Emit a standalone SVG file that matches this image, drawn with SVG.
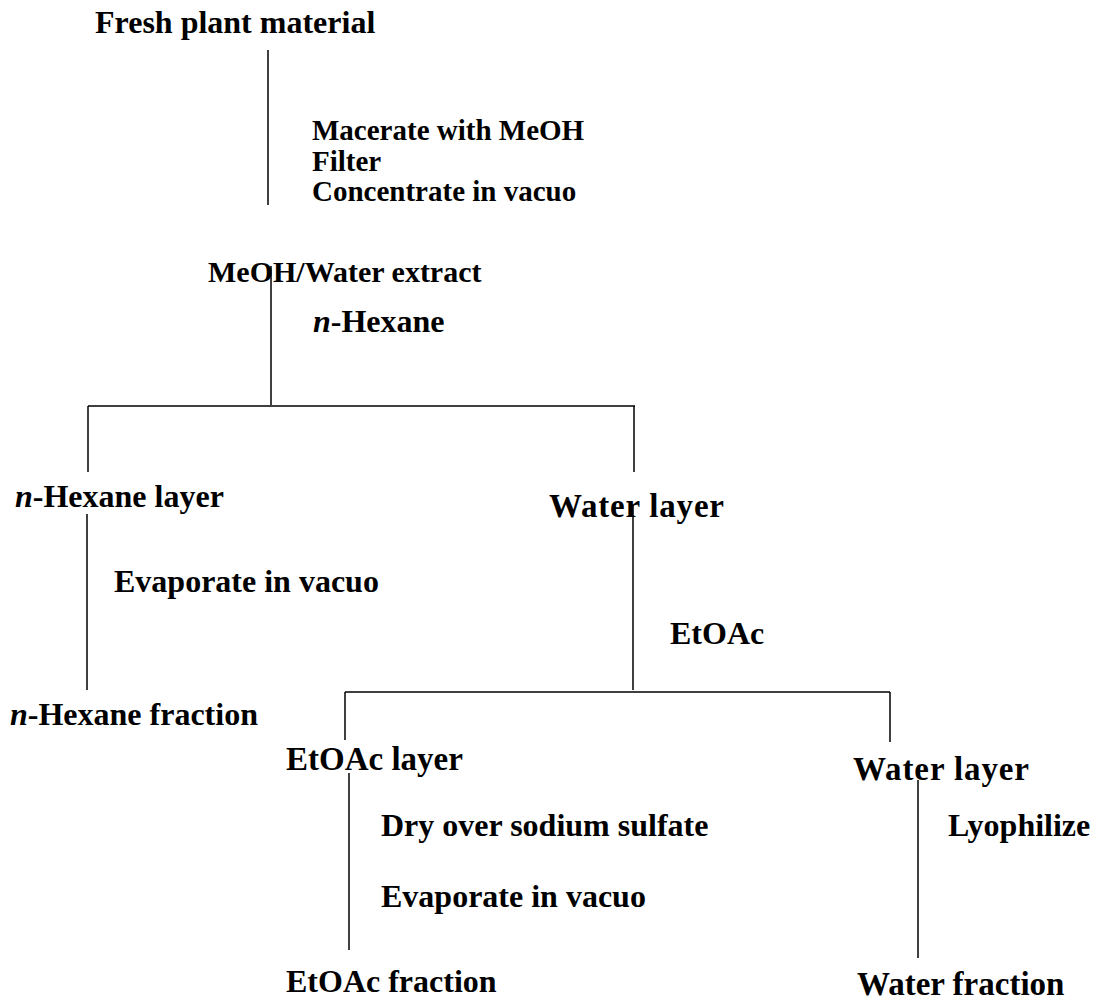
<svg xmlns="http://www.w3.org/2000/svg" width="1103" height="1005" viewBox="0 0 1103 1005">
<style>
text{font-family:"Liberation Serif","Times New Roman",serif;font-weight:bold;font-size:32px;fill:#000}
.s29{font-size:29px}
.s30{font-size:30px}
.s33{font-size:33px}
.i{font-style:italic}
line{stroke:#000;stroke-width:1.5}
</style>
<rect width="1103" height="1005" fill="#fff"/>
<g id="connectors">
<line x1="268" y1="50" x2="268" y2="205"/>
<line x1="271" y1="266" x2="271" y2="405"/>
<line x1="88" y1="406" x2="635" y2="406"/>
<line x1="88" y1="406" x2="88" y2="472"/>
<line x1="634" y1="406" x2="634" y2="472"/>
<line x1="87" y1="514" x2="87" y2="690"/>
<line x1="633" y1="505" x2="633" y2="690"/>
<line x1="345" y1="692" x2="890" y2="692"/>
<line x1="345" y1="692" x2="345" y2="740"/>
<line x1="890" y1="692" x2="890" y2="742"/>
<line x1="349" y1="773" x2="349" y2="950"/>
<line x1="918" y1="780" x2="918" y2="958"/>
</g>
<g id="fresh"><text x="95" y="33">Fresh plant material</text></g>
<g id="step1" class="s29"><text class="s29" x="312" y="140">Macerate with MeOH</text><text class="s29" x="312" y="171">Filter</text><text class="s29" x="312" y="201">Concentrate in vacuo</text></g>
<g id="extract"><text class="s30" x="208" y="282">MeOH/Water extract</text></g>
<g id="step2"><text x="313" y="332"><tspan class="i">n</tspan>-Hexane</text></g>
<g id="hexlayer"><text x="15" y="507"><tspan class="i">n</tspan>-Hexane layer</text></g>
<g id="waterlayer1"><text class="s33" x="549" y="517" textLength="175" lengthAdjust="spacing">Water layer</text></g>
<g id="step3"><text x="114" y="592">Evaporate in vacuo</text></g>
<g id="step4"><text x="670" y="644">EtOAc</text></g>
<g id="hexfraction"><text x="10" y="725"><tspan class="i">n</tspan>-Hexane fraction</text></g>
<g id="etoaclayer"><text class="s33" x="286" y="770">EtOAc layer</text></g>
<g id="waterlayer2"><text class="s33" x="853" y="780" textLength="176" lengthAdjust="spacing">Water layer</text></g>
<g id="step5"><text x="381" y="836">Dry over sodium sulfate</text><text x="381" y="907">Evaporate in vacuo</text></g>
<g id="step6"><text x="948" y="836">Lyophilize</text></g>
<g id="etoacfraction"><text x="286" y="992">EtOAc fraction</text></g>
<g id="waterfraction"><text class="s33" x="857" y="995">Water fraction</text></g>
</svg>
